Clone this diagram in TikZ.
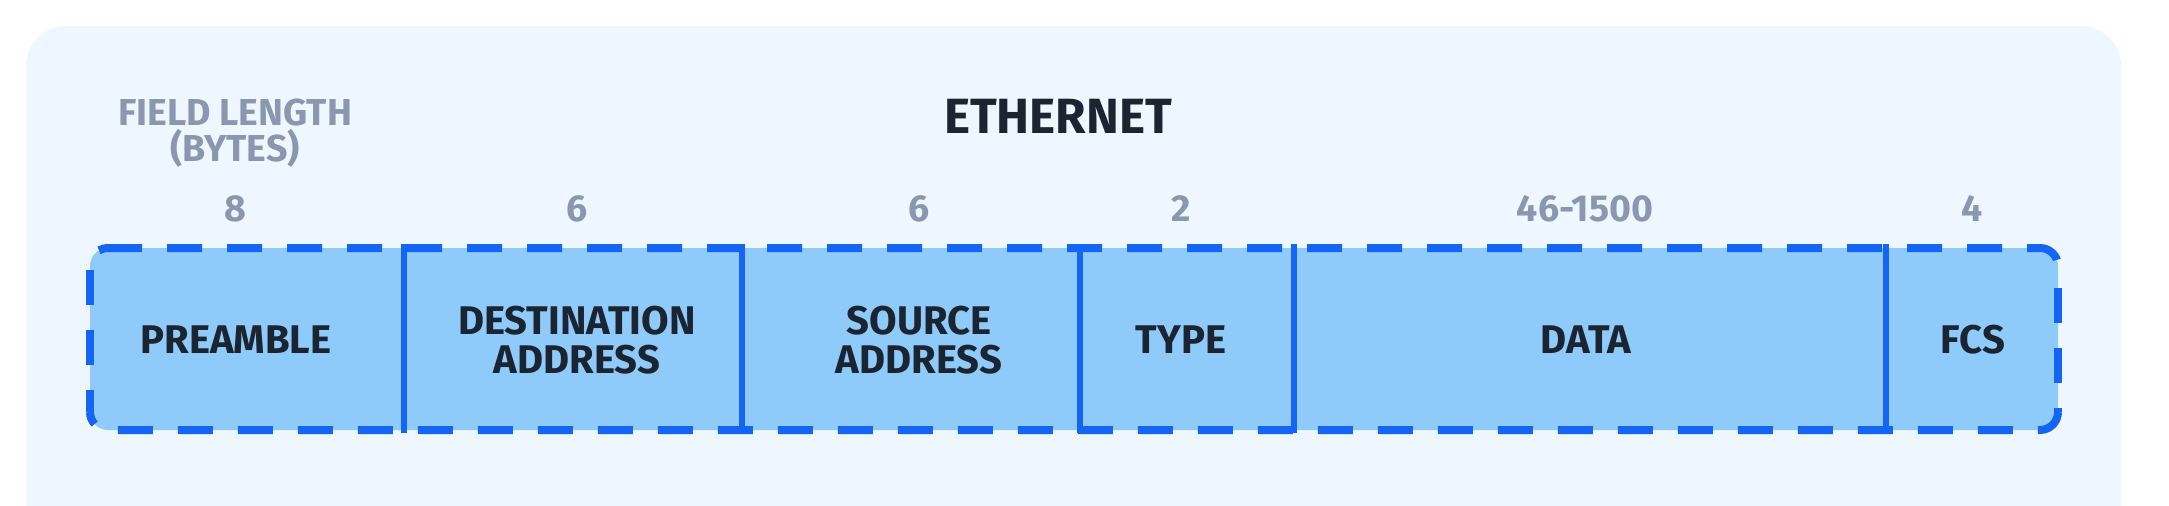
\documentclass[tikz,border=0pt]{standalone}
\usepackage{fontspec}
\setmainfont{Fira Sans}
\definecolor{panel}{HTML}{EEF7FF}
\definecolor{boxfill}{HTML}{8FCBFA}
\definecolor{dashblue}{HTML}{1565F4}
\definecolor{ink}{HTML}{1B2532}
\definecolor{muted}{HTML}{8A97AE}
\begin{document}
\begin{tikzpicture}[x=1pt,y=-1pt,
  fieldlabel/.style={font=\bfseries\fontsize{40}{39}\selectfont, text=ink, align=center, inner sep=0pt, anchor=center},
  sizelabel/.style={font=\bfseries\fontsize{37.5}{36}\selectfont, text=muted, align=center, inner sep=0pt, anchor=center},
  titlelabel/.style={font=\bfseries\fontsize{49.5}{49.5}\selectfont, text=ink, inner sep=0pt, anchor=center},
  frameedge/.style={draw=dashblue, line width=8pt, rounded corners=18pt, dash pattern=on 35pt off 25pt},
  divider/.style={draw=dashblue, line width=6pt}]
\useasboundingbox (0,0) rectangle (2169,506);
% background panel
\fill[panel] (26,506) {[rounded corners=40pt] -- (26,26) -- (2121,26)} -- (2121,506) -- cycle;
% frame fill
\fill[boxfill, rounded corners=18pt] (90,248) rectangle (2058,430);
% dashed outline, edge by edge
\draw[draw=dashblue, line width=8pt] (99,250.4) .. controls (101.8,248.8) and (104.9,248) .. (109,248);
\draw[frameedge, dash phase=1pt] (108,248) -- (2058,248) -- (2058,266);
\draw[frameedge, dash phase=38pt] (2058,266) -- (2058,412);
\draw[frameedge, dash phase=4.7pt] (2058,412) -- (2058,430) -- (90,430) -- (90,412);
\draw[frameedge, dash phase=56pt] (90,266) -- (90,412);
% dividers
\foreach \xx/\nm in {404/d1,742/d2,1080/d3,1294/d4,1886/d5}{
  \coordinate (\nm t) at (\xx,244);
  \coordinate (\nm b) at (\xx,433);
  \draw[divider] (\nm t) -- (\nm b);
}
% title and header
\node[titlelabel] (title) at (1058,116.5) {ETHERNET};
\node[sizelabel] (fl) at (235,133.5) {FIELD LENGTH\\(BYTES)};
% sizes
\node[sizelabel] (s1) at (235,208.5) {8};
\node[sizelabel] (s2) at (577,208.5) {6};
\node[sizelabel] (s3) at (919,208.5) {6};
\node[sizelabel] (s4) at (1181,208.5) {2};
\node[sizelabel] (s5) at (1585,208.5) {46-1500};
\node[sizelabel] (s6) at (1972,208.5) {4};
% field names
\node[fieldlabel] (f1) at (236,340) {PREAMBLE};
\node[fieldlabel] (f2) at (577,340) {DESTINATION\\ADDRESS};
\node[fieldlabel] (f3) at (919,340) {SOURCE\\ADDRESS};
\node[fieldlabel] (f4) at (1181,340) {TYPE};
\node[fieldlabel] (f5) at (1586,340) {DATA};
\node[fieldlabel] (f6) at (1973,340) {FCS};
\end{tikzpicture}
\end{document}
